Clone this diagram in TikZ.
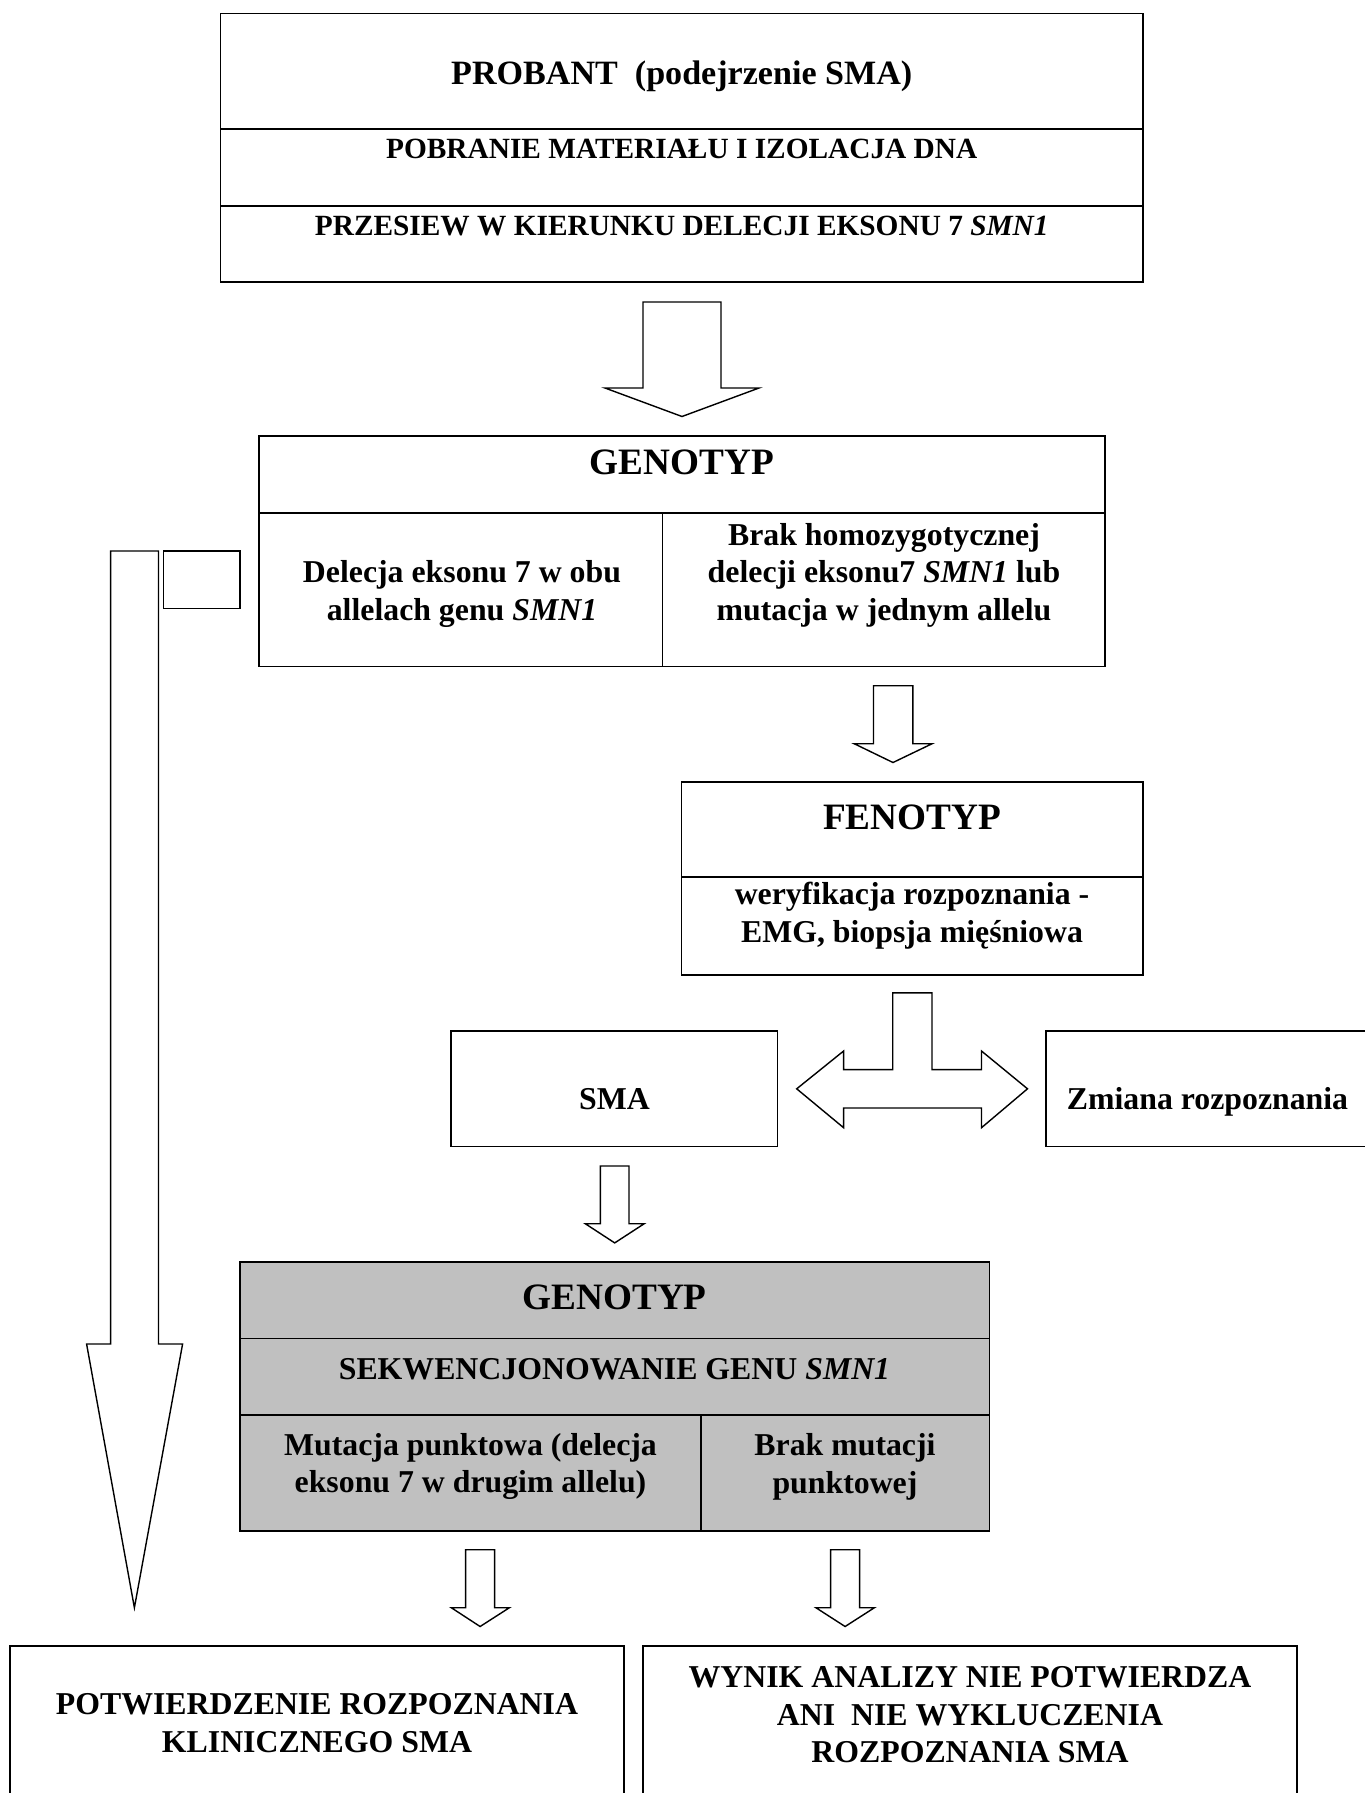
\documentclass[tikz,border=0pt]{standalone}
\usepackage{fontspec}
\setmainfont{Liberation Serif}
\usepackage{tikz}
\usetikzlibrary{positioning}
\usepackage{xcolor}
\definecolor{cellgray}{RGB}{192,192,192}

\begin{document}
\begin{tikzpicture}[x=0.02cm, y=-0.02cm,
    cell/.style={draw, line width=1pt, inner sep=0pt},
    blk/.style={draw, line width=0.8pt, fill=white},
    txt/.style={font=\bfseries\fontsize{18.1}{21.3}\selectfont, align=center, inner sep=0pt},
    txtmid/.style={font=\bfseries\fontsize{16.7}{20}\selectfont, inner sep=0pt, anchor=base},
    txttitle/.style={font=\bfseries\fontsize{19.4}{23}\selectfont, inner sep=0pt, anchor=base},
    txthead/.style={font=\bfseries\fontsize{21.2}{25}\selectfont, inner sep=0pt, anchor=base}]
            \useasboundingbox (0,0) rectangle (1365,1793);
            % Screening block
            \node[cell, minimum width=18.45cm, minimum height=2.312cm] (probant) at (681.75,71.2) {};
            \node[cell, minimum width=18.45cm, minimum height=1.536cm] (pobranie) at (681.75,167.4) {};
            \node[cell, minimum width=18.45cm, minimum height=1.524cm] (przesiew) at (681.75,243.9) {};
            \node[txttitle] (probant-t) at (681.75,84) {PROBANT\ \ (podejrzenie SMA)};
            \node[txtmid] (pobranie-t) at (681.75,158.5) {POBRANIE MATERIAŁU I IZOLACJA DNA};
            \node[txtmid] (przesiew-t) at (681.75,235.7) {PRZESIEW W KIERUNKU DELECJI EKSONU 7 \textit{SMN1}};
            
            \draw[blk] (643,302) -- (721,302) -- (721,388) -- (759,388) -- (682,416.5) -- (605,388) -- (643,388) -- cycle;
            
            % First genotype
            \node[cell, minimum width=16.92cm, minimum height=1.54cm] (geno1) at (682,474.5) {};
            \node[cell, minimum width=8.07cm, minimum height=3.07cm] (geno1-l) at (460.75,589.75) {};
            \node[cell, minimum width=8.85cm, minimum height=3.07cm] (geno1-r) at (883.75,589.75) {};
            \node[txthead] (geno1-t) at (682,474) {GENOTYP};
            \node[txt] (geno1-lt) at (462,594) {Delecja eksonu 7 w obu\\allelach genu \textit{SMN1}};
            \node[txt] (geno1-rt) at (884,575) {Brak homozygotycznej\\delecji eksonu7 \textit{SMN1} lub\\mutacja w jednym allelu};
            
            \node[cell, minimum width=1.532cm, minimum height=1.15cm] (side) at (201.7,579.75) {};
            \draw[blk] (110.7,551) -- (158.5,551) -- (158.5,1344) -- (182.6,1344) -- (134.4,1607.7) -- (86.6,1344) -- (110.7,1344) -- cycle;
            
            \draw[blk] (873.5,685.7) -- (912.8,685.7) -- (912.8,743.75) -- (932,743.75) -- (893,762.5) -- (854.3,743.75) -- (873.5,743.75) -- cycle;
            
            % Phenotype
            \node[cell, minimum width=9.23cm, minimum height=1.902cm] (feno) at (912.25,829.25) {};
            \node[cell, minimum width=9.23cm, minimum height=1.964cm] (feno-b) at (912.25,925.9) {};
            \node[txthead] (feno-t) at (912,829) {FENOTYP};
            \node[txt] (feno-bt) at (912,915.7) {weryfikacja rozpoznania -\\EMG, biopsja mięśniowa};
            
            \draw[blk] (796.7,1088.8) -- (843.6,1051) -- (843.6,1069.6) -- (892.7,1069.6) -- (892.7,992.9) -- (932,992.9) -- (932,1069.6) -- (981.5,1069.6) -- (981.5,1051) -- (1027.5,1088.8) -- (981.5,1127.7) -- (981.5,1108) -- (843.6,1108) -- (843.6,1127.7) -- cycle;
            
            \node[cell, minimum width=6.524cm, minimum height=2.308cm] (sma) at (614.4,1088.7) {};
            \node[cell, minimum width=6.68cm, minimum height=2.308cm] (zmiana) at (1213,1088.7) {};
            \node[txt, anchor=base] (sma-t) at (614.5,1109.8) {SMA};
            \node[txt, anchor=base] (zmiana-t) at (1207.5,1109.8) {Zmiana rozpoznania};
            
            \draw[blk] (600.4,1166) -- (629,1166) -- (629,1223.7) -- (644.2,1223.7) -- (614.7,1242.9) -- (585.3,1223.7) -- (600.4,1223.7) -- cycle;
            
            % Sequencing
            \node[cell, fill=cellgray, minimum width=14.996cm, minimum height=1.535cm] (geno2) at (614.6,1300.1) {};
            \node[cell, fill=cellgray, minimum width=14.996cm, minimum height=1.528cm] (sekw) at (614.6,1376.7) {};
            \node[cell, fill=cellgray, minimum width=9.22cm, minimum height=2.322cm] (geno2-l) at (470.2,1472.95) {};
            \node[cell, fill=cellgray, minimum width=5.776cm, minimum height=2.322cm] (geno2-r) at (845.1,1472.95) {};
            \node[txthead] (geno2-t) at (614.6,1309.5) {GENOTYP};
            \node[txt, anchor=base] (sekw-t) at (614.5,1379) {SEKWENCJONOWANIE GENU \textit{SMN1}};
            \node[txt] (geno2-lt) at (470.5,1466.5) {Mutacja punktowa (delecja\\eksonu 7 w drugim allelu)};
            \node[txt] (geno2-rt) at (845,1467) {Brak mutacji\\punktowej};
            
            \draw[blk] (465.6,1549.7) -- (494.6,1549.7) -- (494.6,1607.7) -- (509.4,1607.7) -- (480.1,1626.5) -- (451.3,1607.7) -- (465.6,1607.7) -- cycle;
            \draw[blk] (830.6,1549.7) -- (859.6,1549.7) -- (859.6,1607.7) -- (874.4,1607.7) -- (845.1,1626.5) -- (815.9,1607.7) -- (830.6,1607.7) -- cycle;
            
            % Results
            \node[cell, minimum width=12.284cm, minimum height=3.286cm] (potw) at (316.9,1727.85) {};
            \node[cell, minimum width=13.068cm, minimum height=3.286cm] (wynik) at (970,1727.85) {};
            \node[txt] (potw-t) at (317,1723) {POTWIERDZENIE ROZPOZNANIA\\KLINICZNEGO SMA};
            \node[txt] (wynik-t) at (970,1715) {WYNIK ANALIZY NIE POTWIERDZA\\ANI\ \ NIE WYKLUCZENIA\\ROZPOZNANIA SMA};
        \end{tikzpicture}
\end{document}
